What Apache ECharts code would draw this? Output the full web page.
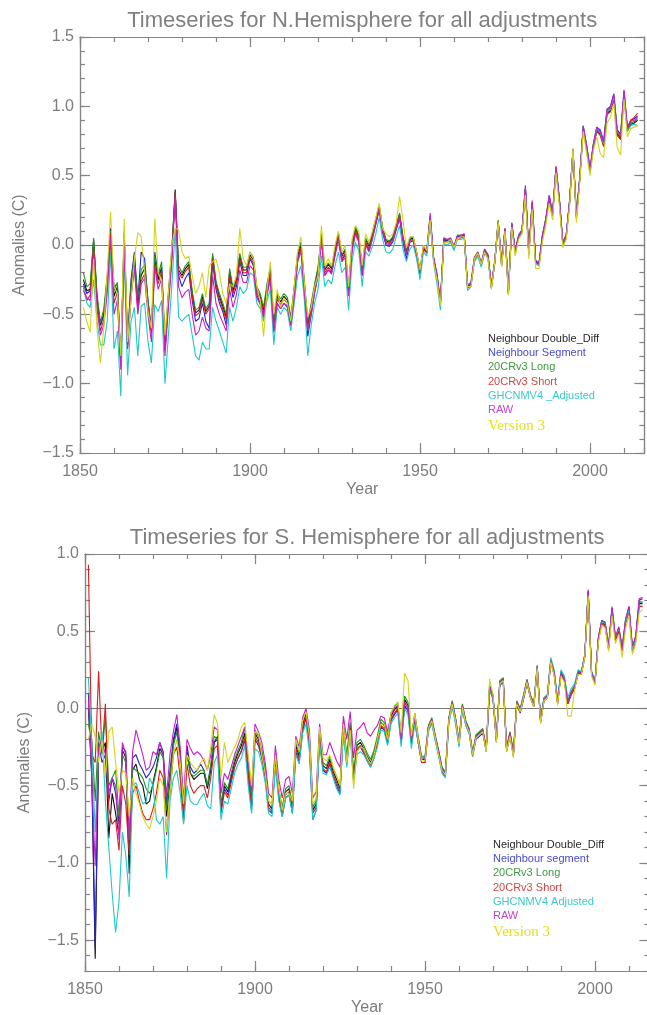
<!DOCTYPE html>
<html>
<head>
<meta charset="utf-8">
<script src="https://cdn.jsdelivr.net/npm/echarts@6/dist/echarts.min.js"></script>
<style>
  html, body { margin: 0; padding: 0; background: #ffffff; }
  #chart { width: 647px; height: 1015px; }
</style>
</head>
<body>
<div id="chart"></div>
<script>
// Annual land temperature anomalies (deg C), one value per year from FIRST_YEAR onward.
const FIRST_YEAR = 1851;

const nhNames = ['Neighbour Double_Diff', 'Neighbour Segment', '20CRv3 Long', '20CRv3 Short', 'GHCNMV4 _Adjusted', 'RAW', 'Version 3'];
const shNames = ['Neighbour Double_Diff', 'Neighbour segment', '20CRv3 Long', '20CRv3 Short', 'GHCNMV4 Adjusted', 'RAW', 'Version 3'];

// ---------------- Northern Hemisphere ----------------
const nhDoubleDiff = [
  -0.25, -0.33, -0.32, 0.04, -0.38, -0.58, -0.50, -0.25, 0.12, -0.37,
  -0.30, -0.86, 0.08, -0.72, -0.32, -0.12, -0.42, -0.22, -0.17, -0.42,
  -0.62, -0.10, -0.25, -0.16, -0.74, -0.37, -0.05, 0.40, -0.18, -0.22,
  -0.17, -0.14, -0.35, -0.49, -0.47, -0.37, -0.48, -0.44, -0.08, -0.28,
  -0.37, -0.44, -0.52, -0.19, -0.33, -0.25, -0.08, -0.18, -0.18, -0.07,
  -0.11, -0.32, -0.37, -0.47, -0.30, -0.18, -0.58, -0.37, -0.41, -0.37,
  -0.40, -0.54, -0.32, -0.08, 0.00, -0.28, -0.58, -0.44, -0.30, -0.18,
  0.07, -0.18, -0.14, -0.17, -0.04, 0.08, -0.08, -0.04, -0.32, 0.00,
  0.12, 0.06, -0.18, 0.04, -0.01, 0.08, 0.18, 0.28, 0.12, 0.03,
  0.02, 0.05, 0.14, 0.22, 0.05, -0.04, 0.04, 0.05, -0.06, -0.20,
  -0.02, -0.05, 0.20, -0.10, -0.22, -0.42, 0.04, 0.03, 0.04, -0.02,
  0.06, 0.06, 0.07, -0.30, -0.28, -0.10, -0.06, -0.14, -0.04, -0.08,
  -0.30, -0.12, 0.17, -0.14, 0.11, -0.34, 0.15, -0.05, 0.06, 0.10,
  0.40, -0.06, 0.30, -0.12, -0.14, 0.06, 0.18, 0.34, 0.22, 0.55,
  0.32, 0.01, 0.06, 0.31, 0.68, 0.20, 0.48, 0.84, 0.70, 0.53,
  0.71, 0.83, 0.80, 0.72, 0.95, 0.97, 1.06, 0.80, 0.77, 1.08,
  0.82, 0.87, 0.88, 0.90
];
const nhSegment = [
  -0.28, -0.35, -0.33, 0.02, -0.40, -0.58, -0.50, -0.26, 0.10, -0.30,
  -0.28, -0.84, 0.06, -0.70, -0.25, -0.05, -0.40, -0.05, -0.10, -0.40,
  -0.62, -0.05, -0.22, -0.18, -0.76, -0.40, -0.08, 0.38, -0.22, -0.30,
  -0.24, -0.20, -0.40, -0.55, -0.53, -0.42, -0.55, -0.60, -0.12, -0.32,
  -0.42, -0.48, -0.58, -0.24, -0.38, -0.30, -0.12, -0.22, -0.22, -0.10,
  -0.15, -0.36, -0.42, -0.52, -0.35, -0.22, -0.63, -0.42, -0.46, -0.42,
  -0.45, -0.58, -0.36, -0.12, -0.04, -0.33, -0.66, -0.50, -0.34, -0.22,
  0.04, -0.22, -0.18, -0.20, -0.07, 0.05, -0.11, -0.07, -0.36, -0.03,
  0.09, 0.03, -0.22, 0.01, -0.04, 0.05, 0.15, 0.25, 0.09, 0.00,
  -0.01, 0.02, 0.11, 0.19, 0.02, -0.10, 0.02, 0.03, -0.08, -0.21,
  -0.02, -0.05, 0.19, -0.10, -0.23, -0.43, 0.04, 0.03, 0.04, -0.02,
  0.06, 0.06, 0.07, -0.31, -0.29, -0.10, -0.06, -0.14, -0.04, -0.08,
  -0.31, -0.12, 0.17, -0.14, 0.11, -0.35, 0.15, -0.05, 0.06, 0.10,
  0.41, -0.06, 0.30, -0.12, -0.14, 0.06, 0.18, 0.35, 0.22, 0.56,
  0.33, 0.02, 0.07, 0.32, 0.69, 0.21, 0.49, 0.86, 0.72, 0.55,
  0.73, 0.85, 0.83, 0.75, 0.98, 1.00, 1.09, 0.83, 0.80, 1.11,
  0.85, 0.90, 0.91, 0.93
];
const nhLong = [
  -0.20, -0.30, -0.28, 0.05, -0.35, -0.56, -0.46, -0.22, 0.10, -0.33,
  -0.27, -0.84, 0.10, -0.68, -0.28, -0.10, -0.38, -0.18, -0.14, -0.40,
  -0.60, -0.08, -0.22, -0.12, -0.70, -0.34, -0.03, 0.38, -0.15, -0.20,
  -0.15, -0.12, -0.33, -0.47, -0.45, -0.35, -0.46, -0.42, -0.06, -0.26,
  -0.35, -0.42, -0.50, -0.17, -0.31, -0.23, -0.06, -0.16, -0.16, -0.05,
  -0.09, -0.30, -0.35, -0.45, -0.28, -0.16, -0.56, -0.35, -0.39, -0.35,
  -0.38, -0.52, -0.30, -0.06, 0.02, -0.26, -0.55, -0.42, -0.28, -0.16,
  0.08, -0.17, -0.13, -0.16, -0.03, 0.09, -0.07, -0.03, -0.30, 0.01,
  0.13, 0.07, -0.17, 0.05, 0.00, 0.09, 0.19, 0.29, 0.13, 0.04,
  0.03, 0.06, 0.15, 0.23, 0.06, -0.03, 0.05, 0.06, -0.05, -0.19,
  -0.01, -0.04, 0.21, -0.09, -0.21, -0.41, 0.05, 0.04, 0.05, -0.01,
  0.07, 0.07, 0.08, -0.29, -0.27, -0.09, -0.05, -0.13, -0.03, -0.07,
  -0.29, -0.11, 0.18, -0.13, 0.12, -0.33, 0.16, -0.04, 0.07, 0.11,
  0.41, -0.05, 0.31, -0.11, -0.13, 0.07, 0.19, 0.35, 0.23, 0.56,
  0.33, 0.02, 0.07, 0.32, 0.69, 0.21, 0.49, 0.85, 0.71, 0.54,
  0.72, 0.84, 0.81, 0.73, 0.96, 0.98, 1.07, 0.81, 0.78, 1.09,
  0.83, 0.88, 0.89, 0.91
];
const nhShort = [
  -0.30, -0.40, -0.36, -0.02, -0.42, -0.62, -0.54, -0.30, 0.08, -0.42,
  -0.34, -0.88, 0.04, -0.74, -0.36, -0.16, -0.46, -0.26, -0.21, -0.45,
  -0.64, -0.14, -0.28, -0.19, -0.76, -0.40, -0.08, 0.38, -0.20, -0.24,
  -0.19, -0.16, -0.37, -0.51, -0.49, -0.39, -0.50, -0.46, -0.10, -0.30,
  -0.39, -0.46, -0.54, -0.21, -0.35, -0.27, -0.10, -0.20, -0.20, -0.09,
  -0.13, -0.34, -0.39, -0.49, -0.32, -0.20, -0.60, -0.39, -0.43, -0.39,
  -0.42, -0.56, -0.34, -0.10, -0.02, -0.30, -0.60, -0.46, -0.32, -0.20,
  0.05, -0.20, -0.16, -0.19, -0.06, 0.06, -0.10, -0.06, -0.34, -0.02,
  0.10, 0.04, -0.20, 0.02, -0.03, 0.06, 0.16, 0.27, 0.11, 0.02,
  0.01, 0.04, 0.13, 0.21, 0.04, -0.05, 0.03, 0.04, -0.07, -0.21,
  -0.03, -0.06, 0.19, -0.11, -0.23, -0.43, 0.03, 0.02, 0.03, -0.03,
  0.05, 0.05, 0.06, -0.31, -0.29, -0.11, -0.07, -0.15, -0.05, -0.09,
  -0.31, -0.13, 0.16, -0.15, 0.10, -0.35, 0.14, -0.06, 0.05, 0.09,
  0.39, -0.07, 0.29, -0.13, -0.15, 0.05, 0.17, 0.33, 0.21, 0.54,
  0.31, 0.00, 0.05, 0.30, 0.67, 0.19, 0.47, 0.83, 0.69, 0.52,
  0.70, 0.82, 0.79, 0.71, 0.94, 0.96, 1.05, 0.79, 0.76, 1.07,
  0.84, 0.90, 0.92, 0.95
];
const nhGhcn = [
  -0.30, -0.42, -0.45, -0.25, -0.55, -0.72, -0.72, -0.55, -0.05, -0.75,
  -0.62, -1.09, -0.05, -0.94, -0.55, -0.45, -0.80, -0.44, -0.42, -0.70,
  -0.85, -0.43, -0.48, -0.40, -1.00, -0.65, -0.30, 0.12, -0.52, -0.55,
  -0.52, -0.50, -0.65, -0.80, -0.83, -0.70, -0.75, -0.75, -0.45, -0.55,
  -0.62, -0.70, -0.78, -0.45, -0.55, -0.45, -0.30, -0.35, -0.32, -0.20,
  -0.22, -0.42, -0.46, -0.55, -0.40, -0.32, -0.72, -0.45, -0.50, -0.45,
  -0.48, -0.62, -0.42, -0.22, -0.15, -0.40, -0.80, -0.58, -0.42, -0.32,
  -0.08, -0.30, -0.25, -0.28, -0.15, -0.05, -0.20, -0.16, -0.47, -0.12,
  0.02, -0.04, -0.30, -0.05, -0.08, -0.01, 0.08, 0.20, 0.04, -0.05,
  -0.06, -0.03, 0.06, 0.14, -0.03, -0.12, -0.03, 0.00, -0.10, -0.25,
  -0.05, -0.08, 0.16, -0.13, -0.28, -0.47, 0.01, 0.00, 0.02, -0.04,
  0.04, 0.04, 0.05, -0.33, -0.30, -0.12, -0.08, -0.16, -0.06, -0.10,
  -0.31, -0.13, 0.15, -0.15, 0.10, -0.36, 0.14, -0.06, 0.05, 0.09,
  0.40, -0.07, 0.29, -0.13, -0.15, 0.05, 0.18, 0.36, 0.22, 0.56,
  0.32, 0.01, 0.07, 0.31, 0.69, 0.20, 0.48, 0.85, 0.71, 0.54,
  0.72, 0.84, 0.81, 0.73, 0.96, 0.98, 1.07, 0.82, 0.79, 1.09,
  0.82, 0.86, 0.87, 0.86
];
const nhRaw = [
  -0.33, -0.38, -0.40, -0.05, -0.46, -0.65, -0.58, -0.35, 0.05, -0.50,
  -0.40, -0.90, -0.02, -0.75, -0.38, -0.16, -0.50, -0.28, -0.24, -0.50,
  -0.70, -0.16, -0.32, -0.24, -0.80, -0.45, -0.12, 0.35, -0.30, -0.38,
  -0.34, -0.32, -0.50, -0.65, -0.62, -0.52, -0.60, -0.62, -0.22, -0.42,
  -0.50, -0.56, -0.62, -0.32, -0.45, -0.36, -0.18, -0.27, -0.27, -0.15,
  -0.18, -0.38, -0.43, -0.52, -0.36, -0.25, -0.62, -0.42, -0.46, -0.42,
  -0.44, -0.58, -0.38, -0.12, -0.04, -0.34, -0.62, -0.50, -0.35, -0.22,
  0.03, -0.22, -0.18, -0.21, -0.08, 0.04, -0.12, -0.09, -0.37, -0.05,
  0.08, 0.02, -0.22, 0.00, -0.05, 0.04, 0.15, 0.26, 0.10, 0.01,
  0.00, 0.03, 0.12, 0.20, 0.04, -0.07, 0.03, 0.04, -0.05, -0.18,
  -0.01, -0.04, 0.23, -0.09, -0.21, -0.41, 0.05, 0.04, 0.05, -0.01,
  0.07, 0.07, 0.08, -0.29, -0.27, -0.09, -0.05, -0.13, -0.03, -0.07,
  -0.29, -0.11, 0.17, -0.13, 0.12, -0.34, 0.16, -0.04, 0.07, 0.11,
  0.43, -0.05, 0.32, -0.11, -0.13, 0.07, 0.19, 0.36, 0.23, 0.57,
  0.33, 0.02, 0.07, 0.32, 0.69, 0.21, 0.49, 0.86, 0.72, 0.55,
  0.73, 0.85, 0.82, 0.74, 0.97, 0.99, 1.09, 0.82, 0.79, 1.12,
  0.84, 0.89, 0.90, 0.92
];
const nhVersion3 = [
  -0.45, -0.55, -0.63, -0.10, -0.60, -0.85, -0.60, -0.20, 0.24, -0.30,
  -0.35, -0.80, 0.19, -0.70, -0.40, -0.10, 0.09, 0.06, -0.20, -0.48,
  -0.60, 0.19, -0.20, -0.25, -0.65, -0.35, 0.00, 0.12, 0.11, -0.05,
  -0.10, -0.08, -0.22, -0.35, -0.30, -0.20, -0.38, -0.15, -0.12, -0.10,
  -0.20, -0.35, -0.42, -0.28, -0.30, -0.22, 0.12, -0.10, -0.15, -0.05,
  -0.10, -0.30, -0.40, -0.66, -0.32, -0.12, -0.50, -0.32, -0.45, -0.38,
  -0.42, -0.55, -0.30, -0.05, 0.06, -0.28, -0.52, -0.45, -0.30, -0.22,
  0.14, -0.15, -0.10, -0.15, 0.00, 0.10, -0.05, 0.00, -0.30, 0.04,
  0.14, 0.10, -0.15, 0.08, 0.02, 0.10, 0.20, 0.30, 0.12, 0.08,
  0.06, 0.08, 0.16, 0.35, 0.18, -0.02, 0.06, 0.06, -0.05, -0.18,
  0.00, -0.04, 0.18, -0.12, -0.25, -0.44, 0.02, 0.02, 0.04, -0.02,
  0.05, 0.06, 0.06, -0.30, -0.30, -0.10, -0.06, -0.14, -0.05, -0.10,
  -0.32, -0.12, 0.17, -0.16, 0.10, -0.36, 0.13, -0.08, 0.04, 0.08,
  0.36, -0.10, 0.26, -0.17, -0.17, 0.02, 0.14, 0.30, 0.18, 0.52,
  0.28, -0.02, 0.04, 0.28, 0.70, 0.16, 0.45, 0.82, 0.66, 0.50,
  0.68, 0.78, 0.66, 0.63, 0.88, 0.92, 1.02, 0.70, 0.65, 1.05,
  0.78, 0.84, 0.85, 0.86
];

// ---------------- Southern Hemisphere ----------------
const shDoubleDiff = [
  0.00, -0.45, -1.62, -0.30, -0.28, -0.22, -0.84, -0.55, -0.68, -0.82,
  -0.27, -0.32, -1.07, -0.40, -0.36, -0.46, -0.50, -0.62, -0.60, -0.48,
  -0.38, -0.26, -0.30, -0.70, -0.46, -0.22, -0.12, -0.34, -0.72, -0.28,
  -0.42, -0.46, -0.44, -0.42, -0.42, -0.52, -0.40, -0.22, -0.18, -0.65,
  -0.50, -0.54, -0.44, -0.35, -0.29, -0.24, -0.16, -0.41, -0.62, -0.16,
  -0.20, -0.29, -0.41, -0.62, -0.65, -0.31, -0.54, -0.66, -0.54, -0.52,
  -0.64, -0.24, -0.31, -0.11, -0.03, -0.20, -0.66, -0.62, -0.16, -0.37,
  -0.39, -0.33, -0.41, -0.46, -0.52, -0.11, -0.33, -0.11, -0.44, -0.24,
  -0.22, -0.26, -0.31, -0.35, -0.29, -0.20, -0.09, -0.11, -0.20, -0.05,
  -0.01, 0.02, -0.20, 0.06, 0.02, -0.20, -0.05, -0.20, -0.33, -0.33,
  -0.12, -0.07, -0.18, -0.28, -0.39, -0.42, -0.07, 0.04, -0.07, -0.22,
  0.02, -0.09, -0.14, -0.29, -0.18, -0.16, -0.14, -0.26, 0.14, 0.08,
  -0.20, 0.17, 0.19, -0.26, -0.16, -0.29, 0.04, -0.01, 0.08, 0.18,
  0.08, 0.02, 0.27, -0.08, 0.06, 0.08, 0.31, 0.23, 0.04, 0.23,
  0.19, 0.04, 0.10, 0.14, 0.23, 0.23, 0.34, 0.75, 0.23, 0.17,
  0.45, 0.56, 0.54, 0.39, 0.64, 0.45, 0.51, 0.38, 0.56, 0.64,
  0.38, 0.45, 0.68, 0.68
];
const shSegment = [
  0.10, -0.40, -1.55, -0.22, -0.35, -0.30, -0.60, -0.45, -0.55, -0.75,
  -0.25, -0.28, -0.90, -0.32, -0.30, -0.36, -0.40, -0.45, -0.42, -0.38,
  -0.32, -0.22, -0.28, -0.62, -0.40, -0.20, -0.10, -0.30, -0.66, -0.24,
  -0.38, -0.42, -0.40, -0.36, -0.40, -0.50, -0.38, -0.22, -0.20, -0.66,
  -0.52, -0.56, -0.46, -0.38, -0.32, -0.28, -0.20, -0.45, -0.66, -0.20,
  -0.24, -0.32, -0.45, -0.66, -0.68, -0.34, -0.58, -0.70, -0.58, -0.56,
  -0.68, -0.28, -0.35, -0.15, -0.06, -0.24, -0.72, -0.66, -0.20, -0.40,
  -0.42, -0.36, -0.44, -0.50, -0.55, -0.14, -0.36, -0.14, -0.47, -0.27,
  -0.25, -0.29, -0.34, -0.38, -0.32, -0.23, -0.12, -0.14, -0.23, -0.08,
  -0.04, -0.01, -0.22, 0.02, -0.02, -0.23, -0.08, -0.22, -0.35, -0.35,
  -0.14, -0.09, -0.20, -0.30, -0.41, -0.44, -0.09, 0.02, -0.09, -0.24,
  0.00, -0.11, -0.16, -0.31, -0.20, -0.18, -0.16, -0.28, 0.12, 0.06,
  -0.22, 0.15, 0.17, -0.28, -0.18, -0.31, 0.02, -0.03, 0.06, 0.16,
  0.07, 0.01, 0.26, -0.09, 0.05, 0.07, 0.30, 0.22, 0.03, 0.22,
  0.18, 0.03, 0.09, 0.13, 0.22, 0.23, 0.34, 0.76, 0.22, 0.17,
  0.45, 0.57, 0.55, 0.40, 0.65, 0.46, 0.52, 0.39, 0.57, 0.66,
  0.39, 0.47, 0.70, 0.71
];
const shLong = [
  -0.10, -0.20, -0.60, -0.15, -0.30, -0.05, -0.50, -0.45, -0.40, -0.70,
  -0.30, -0.35, -0.85, -0.38, -0.40, -0.42, -0.45, -0.52, -0.55, -0.50,
  -0.40, -0.28, -0.32, -0.66, -0.45, -0.24, -0.15, -0.35, -0.70, -0.30,
  -0.42, -0.44, -0.42, -0.40, -0.40, -0.50, -0.36, -0.18, -0.20, -0.62,
  -0.48, -0.52, -0.42, -0.33, -0.27, -0.22, -0.12, -0.38, -0.60, -0.14,
  -0.18, -0.27, -0.39, -0.60, -0.62, -0.29, -0.52, -0.64, -0.52, -0.50,
  -0.62, -0.22, -0.29, -0.09, -0.01, -0.18, -0.64, -0.60, -0.14, -0.35,
  -0.37, -0.31, -0.39, -0.44, -0.50, -0.09, -0.31, -0.09, -0.42, -0.22,
  -0.20, -0.24, -0.29, -0.33, -0.27, -0.18, -0.07, -0.09, -0.18, -0.03,
  0.01, 0.04, -0.18, 0.08, 0.04, -0.18, -0.03, -0.18, -0.31, -0.31,
  -0.11, -0.06, -0.17, -0.27, -0.38, -0.41, -0.06, 0.05, -0.06, -0.21,
  0.03, -0.08, -0.13, -0.28, -0.17, -0.15, -0.13, -0.25, 0.15, 0.09,
  -0.19, 0.18, 0.20, -0.25, -0.15, -0.28, 0.05, 0.00, 0.09, 0.19,
  0.09, 0.03, 0.28, -0.07, 0.07, 0.09, 0.32, 0.24, 0.05, 0.24,
  0.20, 0.05, 0.11, 0.15, 0.24, 0.24, 0.35, 0.75, 0.24, 0.18,
  0.46, 0.57, 0.55, 0.40, 0.65, 0.46, 0.52, 0.39, 0.57, 0.65,
  0.39, 0.46, 0.69, 0.69
];
const shShort = [
  0.93, -0.30, -0.35, 0.24, -0.28, 0.03, -0.65, -0.75, -0.72, -0.92,
  -0.50, -0.62, -0.95, -0.55, -0.50, -0.60, -0.68, -0.72, -0.72, -0.65,
  -0.55, -0.40, -0.45, -0.82, -0.55, -0.30, -0.25, -0.45, -0.74, -0.36,
  -0.50, -0.55, -0.52, -0.50, -0.50, -0.58, -0.45, -0.26, -0.24, -0.68,
  -0.54, -0.58, -0.48, -0.38, -0.32, -0.27, -0.19, -0.44, -0.64, -0.18,
  -0.22, -0.31, -0.43, -0.64, -0.67, -0.33, -0.56, -0.68, -0.56, -0.54,
  -0.66, -0.26, -0.33, -0.13, -0.05, -0.22, -0.68, -0.64, -0.18, -0.39,
  -0.41, -0.35, -0.43, -0.48, -0.54, -0.13, -0.35, -0.13, -0.46, -0.26,
  -0.24, -0.28, -0.33, -0.37, -0.31, -0.22, -0.11, -0.13, -0.22, -0.07,
  -0.03, 0.00, -0.22, 0.04, 0.00, -0.22, -0.07, -0.22, -0.35, -0.35,
  -0.13, -0.08, -0.19, -0.29, -0.40, -0.43, -0.08, 0.03, -0.08, -0.23,
  0.01, -0.10, -0.15, -0.30, -0.19, -0.17, -0.15, -0.27, 0.13, 0.07,
  -0.21, 0.16, 0.18, -0.27, -0.17, -0.30, 0.03, -0.02, 0.07, 0.17,
  0.07, 0.01, 0.26, -0.09, 0.05, 0.07, 0.30, 0.22, 0.03, 0.22,
  0.18, 0.03, 0.09, 0.13, 0.22, 0.22, 0.33, 0.74, 0.22, 0.16,
  0.44, 0.55, 0.53, 0.38, 0.63, 0.44, 0.50, 0.37, 0.55, 0.63,
  0.37, 0.44, 0.66, 0.66
];
const shGhcn = [
  0.20, -0.25, -0.80, -0.30, -0.15, -0.60, -0.90, -1.20, -1.45, -1.25,
  -0.80, -0.95, -1.22, -0.50, -0.48, -0.55, -0.62, -0.60, -0.45, -0.50,
  -0.72, -0.75, -0.70, -1.10, -0.60, -0.45, -0.40, -0.55, -0.75, -0.50,
  -0.60, -0.62, -0.62, -0.58, -0.55, -0.63, -0.65, -0.35, -0.30, -0.72,
  -0.60, -0.62, -0.52, -0.42, -0.36, -0.32, -0.24, -0.50, -0.68, -0.26,
  -0.28, -0.36, -0.48, -0.68, -0.70, -0.38, -0.60, -0.70, -0.58, -0.56,
  -0.68, -0.30, -0.36, -0.16, -0.10, -0.28, -0.72, -0.66, -0.22, -0.42,
  -0.43, -0.38, -0.45, -0.52, -0.56, -0.17, -0.38, -0.17, -0.48, -0.30,
  -0.28, -0.30, -0.34, -0.38, -0.32, -0.25, -0.14, -0.15, -0.24, -0.10,
  -0.06, -0.03, -0.25, 0.00, -0.04, -0.26, -0.10, -0.22, -0.33, -0.32,
  -0.15, -0.10, -0.21, -0.31, -0.42, -0.45, -0.10, 0.01, -0.10, -0.25,
  -0.01, -0.11, -0.16, -0.31, -0.19, -0.17, -0.15, -0.27, 0.12, 0.07,
  -0.21, 0.16, 0.18, -0.27, -0.17, -0.30, 0.03, -0.02, 0.08, 0.18,
  0.08, 0.02, 0.28, -0.07, 0.07, 0.09, 0.33, 0.25, 0.06, 0.25,
  0.21, 0.07, 0.13, 0.16, 0.25, 0.24, 0.35, 0.74, 0.23, 0.18,
  0.46, 0.56, 0.55, 0.40, 0.64, 0.46, 0.52, 0.39, 0.56, 0.64,
  0.38, 0.45, 0.67, 0.67
];
const shRaw = [
  0.05, -0.45, -1.02, -0.25, -0.20, -0.30, -0.55, -0.45, -0.50, -0.85,
  -0.22, -0.30, -0.85, -0.28, -0.14, -0.22, -0.30, -0.40, -0.38, -0.28,
  -0.30, -0.22, -0.30, -0.56, -0.30, -0.15, -0.04, -0.25, -0.60, -0.20,
  -0.26, -0.30, -0.28, -0.30, -0.34, -0.40, -0.30, -0.12, -0.14, -0.55,
  -0.42, -0.46, -0.38, -0.30, -0.24, -0.18, -0.12, -0.34, -0.54, -0.10,
  -0.15, -0.22, -0.35, -0.55, -0.58, -0.24, -0.46, -0.58, -0.46, -0.44,
  -0.55, -0.18, -0.25, -0.06, 0.00, -0.14, -0.58, -0.54, -0.10, -0.30,
  -0.30, -0.22, -0.28, -0.34, -0.38, -0.05, -0.20, -0.02, -0.32, -0.14,
  -0.12, -0.09, -0.16, -0.18, -0.14, -0.11, -0.05, -0.06, -0.15, -0.04,
  0.00, 0.02, -0.20, 0.04, 0.00, -0.20, -0.05, -0.20, -0.32, -0.32,
  -0.12, -0.07, -0.18, -0.28, -0.39, -0.42, -0.07, 0.04, -0.07, -0.22,
  0.02, -0.09, -0.14, -0.29, -0.18, -0.16, -0.14, -0.26, 0.14, 0.08,
  -0.20, 0.17, 0.19, -0.26, -0.16, -0.29, 0.04, -0.01, 0.08, 0.18,
  0.08, 0.02, 0.27, -0.08, 0.06, 0.08, 0.31, 0.23, 0.04, 0.23,
  0.19, 0.04, 0.10, 0.14, 0.23, 0.23, 0.34, 0.77, 0.23, 0.17,
  0.46, 0.57, 0.56, 0.40, 0.66, 0.46, 0.53, 0.39, 0.58, 0.66,
  0.40, 0.47, 0.71, 0.72
];
const shVersion3 = [
  -0.20, -0.10, -0.18, -0.35, -0.20, -0.45, -0.15, -0.12, -0.35, -0.55,
  -0.40, -0.42, -0.70, -0.45, -0.55, -0.62, -0.70, -0.75, -0.78, -0.70,
  -0.60, -0.45, -0.50, -0.80, -0.55, -0.30, -0.20, -0.35, -0.62, -0.30,
  -0.35, -0.38, -0.40, -0.35, -0.32, -0.40, -0.25, -0.04, -0.10, -0.45,
  -0.22, -0.35, -0.30, -0.25, -0.20, -0.12, -0.09, -0.30, -0.50, -0.15,
  -0.16, -0.30, -0.42, -0.60, -0.62, -0.30, -0.52, -0.66, -0.55, -0.55,
  -0.60, -0.20, -0.28, -0.08, -0.02, -0.18, -0.62, -0.58, -0.12, -0.32,
  -0.34, -0.30, -0.38, -0.44, -0.50, -0.10, -0.35, -0.14, -0.52, -0.28,
  -0.25, -0.26, -0.32, -0.36, -0.30, -0.20, -0.10, -0.10, -0.20, -0.03,
  0.02, 0.04, -0.16, 0.23, 0.18, -0.18, -0.03, -0.20, -0.34, -0.34,
  -0.13, -0.08, -0.19, -0.30, -0.40, -0.43, -0.08, 0.03, -0.08, -0.23,
  0.01, -0.10, -0.15, -0.30, -0.19, -0.17, -0.15, -0.28, 0.19, 0.09,
  -0.22, 0.16, 0.18, -0.28, -0.18, -0.32, 0.03, -0.02, 0.07, 0.17,
  0.07, 0.01, 0.26, -0.10, 0.05, 0.07, 0.30, 0.21, 0.02, 0.21,
  0.17, -0.05, -0.05, 0.12, 0.22, 0.22, 0.33, 0.73, 0.21, 0.15,
  0.43, 0.54, 0.52, 0.37, 0.60, 0.42, 0.48, 0.33, 0.52, 0.60,
  0.35, 0.42, 0.62, 0.64
];

// Axis ticks and labels
const xMajorTicks = [1850, 1900, 1950, 2000];
const nhYMajorTicks = [-1.5, -1.0, -0.5, 0.0, 0.5, 1.0, 1.5];
const shYMajorTicks = [-1.5, -1.0, -0.5, 0.0, 0.5, 1.0];

const nhSeriesValues = [nhDoubleDiff, nhSegment, nhLong, nhShort, nhGhcn, nhRaw, nhVersion3];
const shSeriesValues = [shDoubleDiff, shSegment, shLong, shShort, shGhcn, shRaw, shVersion3];

const lineColors = ['#111111', '#2424c8', '#1e961e', '#d81e1e', '#1ec8c8', '#c81ec8', '#d4d41a'];
const legendColors = ['#2a2a2a', '#4a4ad0', '#3f9a3f', '#d04848', '#3cc8c8', '#c444c8', '#e2e21c'];

const AXIS_COLOR = '#858585';
const TEXT_COLOR = '#7d7d7d';
const FONT = 'Liberation Sans';

// Plot rectangles (pixels)
const panels = [
  { left: 80, top: 37, height: 416, yMin: -1.5, yMax: 1.5, yMajor: nhYMajorTicks,
    title: 'Timeseries for N.Hemisphere for all adjustments', names: nhNames, values: nhSeriesValues,
    legendX: 488, legendY: 339 },
  { left: 85, top: 554, height: 417, yMin: -1.7, yMax: 1.0, yMajor: shYMajorTicks,
    title: 'Timeseries for S. Hemisphere for all adjustments', names: shNames, values: shSeriesValues,
    legendX: 493, legendY: 845 }
];
const X_MIN = 1850, X_MAX = 2016, PX_PER_YEAR = 3.4;

function fmtTick(v) {
  return v.toFixed(1).replace('-', '\u2212');
}

const grids = [], xAxes = [], yAxes = [], series = [], graphics = [];

panels.forEach((p, gi) => {
  const width = (X_MAX - X_MIN) * PX_PER_YEAR;
  grids.push({ left: p.left, top: p.top, width: width, height: p.height, outerBoundsMode: 'none', containLabel: false });

  const axisLine = { show: true, onZero: false, lineStyle: { color: AXIS_COLOR, width: 1.2 } };
  const tickStyle = { color: AXIS_COLOR, width: 1.2 };
  const xBase = { type: 'value', gridIndex: gi, min: X_MIN, max: X_MAX, splitLine: { show: false }, axisLine: axisLine };
  const xLabelIndex = xAxes.length;
  xAxes.push(Object.assign({}, xBase, {
    position: 'bottom',
    axisTick: { inside: true, length: 10, customValues: xMajorTicks, lineStyle: tickStyle },
    axisLabel: { customValues: xMajorTicks, color: TEXT_COLOR, fontFamily: FONT, fontSize: 16, margin: 11,
                 formatter: v => String(v) }
  }));
  xAxes.push(Object.assign({}, xBase, {
    position: 'bottom', interval: 10,
    axisTick: { inside: true, length: 5, lineStyle: tickStyle }, axisLabel: { show: false }
  }));
  xAxes.push(Object.assign({}, xBase, {
    position: 'top',
    axisTick: { inside: true, length: 10, customValues: xMajorTicks, lineStyle: tickStyle }, axisLabel: { show: false }
  }));
  xAxes.push(Object.assign({}, xBase, {
    position: 'top', interval: 10,
    axisTick: { inside: true, length: 5, lineStyle: tickStyle }, axisLabel: { show: false }
  }));

  const yBase = { type: 'value', gridIndex: gi, min: p.yMin, max: p.yMax, splitLine: { show: false }, axisLine: axisLine };
  const yLabelIndex = yAxes.length;
  yAxes.push(Object.assign({}, yBase, {
    position: 'left',
    axisTick: { inside: true, length: 10, customValues: p.yMajor, lineStyle: tickStyle },
    axisLabel: { customValues: p.yMajor, color: TEXT_COLOR, fontFamily: FONT, fontSize: 16, margin: 6, formatter: fmtTick }
  }));
  yAxes.push(Object.assign({}, yBase, {
    position: 'left', interval: 0.1,
    axisTick: { inside: true, length: 5, lineStyle: tickStyle }, axisLabel: { show: false }
  }));
  yAxes.push(Object.assign({}, yBase, {
    position: 'right',
    axisTick: { inside: true, length: 10, customValues: p.yMajor, lineStyle: tickStyle }, axisLabel: { show: false }
  }));
  yAxes.push(Object.assign({}, yBase, {
    position: 'right', interval: 0.1,
    axisTick: { inside: true, length: 5, lineStyle: tickStyle }, axisLabel: { show: false }
  }));

  p.values.forEach((vals, si) => {
    const s = {
      type: 'line', name: p.names[si], xAxisIndex: xLabelIndex, yAxisIndex: yLabelIndex,
      data: vals.map((v, i) => [FIRST_YEAR + i, v]),
      showSymbol: false, symbol: 'none', silent: true, animation: false,
      lineStyle: { color: lineColors[si], width: 1.1 }, z: 3 + si
    };
    if (si === 0) {
      s.markLine = {
        silent: true, symbol: ['none', 'none'], label: { show: false },
        lineStyle: { color: '#7a7a7a', width: 1.2, type: 'solid' },
        data: [{ yAxis: 0 }], z: 2
      };
    }
    series.push(s);
  });

  const cx = p.left + width / 2;
  graphics.push({
    type: 'text', x: cx, y: p.top - 16,
    style: { text: p.title, fill: '#808080', font: '22px "Liberation Sans"', textAlign: 'center', textVerticalAlign: 'middle' }
  });
  graphics.push({
    type: 'text', x: cx, y: p.top + p.height + 37,
    style: { text: 'Year', fill: TEXT_COLOR, font: '16px "Liberation Sans"', textAlign: 'center', textVerticalAlign: 'middle' }
  });
  graphics.push({
    type: 'text', x: p.left - 60, y: p.top + p.height / 2, rotation: Math.PI / 2,
    style: { text: 'Anomalies (C)', fill: TEXT_COLOR, font: '16px "Liberation Sans"', textAlign: 'center', textVerticalAlign: 'middle' }
  });
  p.names.forEach((n, si) => {
    const last = si === p.names.length - 1;
    graphics.push({
      type: 'text', x: p.legendX, y: p.legendY + si * 14.2 + (last ? 1.5 : 0),
      style: {
        text: n, fill: legendColors[si],
        font: last ? '15px "Liberation Serif"' : '11px "Liberation Sans"',
        textAlign: 'left', textVerticalAlign: 'middle'
      }
    });
  });
});

const chart = echarts.init(document.getElementById('chart'), null, { renderer: 'canvas' });
chart.setOption({
  backgroundColor: '#ffffff',
  animation: false,
  grid: grids,
  xAxis: xAxes,
  yAxis: yAxes,
  series: series,
  graphic: graphics
});
</script>
</body>
</html>
